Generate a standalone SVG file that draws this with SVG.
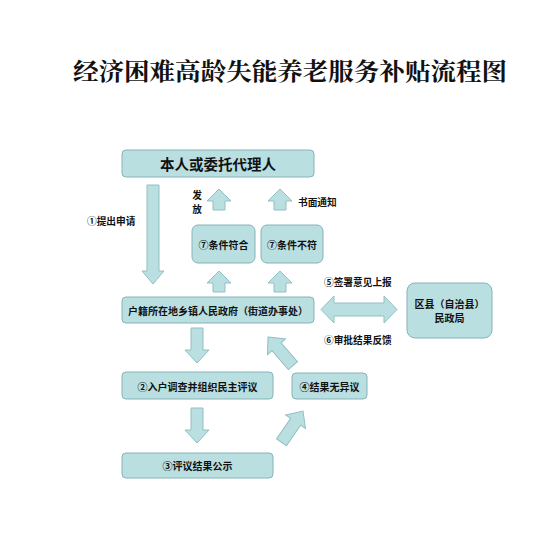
<svg xmlns="http://www.w3.org/2000/svg" width="542" height="534" viewBox="0 0 542 534">
<style>
.box{fill:#B9DFE1;stroke:#86B3B8;stroke-width:1}
.arr{fill:#B9DFE1;stroke:#93BFC4;stroke-width:1}
text{font-family:"Noto Sans CJK SC","Liberation Sans",sans-serif;font-weight:bold;fill:#111}
.t{font-size:10px;text-anchor:middle;dominant-baseline:central}
.lbl{font-size:9.7px;dominant-baseline:central}
.title{font-family:"Noto Serif CJK SC","Noto Sans CJK SC",serif;font-size:24px;font-weight:bold}
</style>
<defs>
<path id="upA" d="M0,0 L12,12 L6,12 L6,21 L-6,21 L-6,12 L-12,12 Z"/>
<path id="diagA" d="M0,0 L12,13 L6,13 L6,38 L-6,38 L-6,13 L-12,13 Z"/>
<path id="downA" d="M0,0 L6,0 L6,22 L12,22 L0,35 L-12,22 L-6,22 L-6,0 Z"/>
</defs>
<rect width="542" height="534" fill="#fff"/>
<text class="title" x="73" y="80" textLength="434" lengthAdjust="spacingAndGlyphs">经济困难高龄失能养老服务补贴流程图</text>

<g id="connectors">
<path class="arr" d="M147,185 L159,185 L159,271 L164,271 L153,284 L142,271 L147,271 Z"/>
<use href="#upA" class="arr" x="219" y="189"/>
<use href="#upA" class="arr" x="280" y="189"/>
<use href="#upA" class="arr" x="219" y="271"/>
<use href="#upA" class="arr" x="280" y="271"/>
<path class="arr" d="M321,309.5 L334,296 L334,303 L384,303 L384,296 L397,309.5 L384,323 L384,316 L334,316 L334,323 Z"/>
<use href="#downA" class="arr" transform="translate(197,328)"/>
<use href="#downA" class="arr" transform="translate(197,408)"/>
<use href="#diagA" class="arr" transform="translate(268,337) rotate(-41)"/>
<use href="#diagA" class="arr" transform="translate(303,411) rotate(34.5)"/>
</g>

<g id="lbl-apply"><text class="lbl" x="87" y="221">①提出申请</text></g>
<g id="lbl-issue"><text class="lbl" x="197" y="195" text-anchor="middle">发</text><text class="lbl" x="197" y="209" text-anchor="middle">放</text></g>
<g id="lbl-notify"><text class="lbl" x="298" y="202">书面通知</text></g>
<g id="lbl-report"><text class="lbl" x="324" y="282">⑤签署意见上报</text></g>
<g id="lbl-feedback"><text class="lbl" x="324" y="340">⑥审批结果反馈</text></g>

<g id="applicant"><rect class="box" x="122" y="150" width="192" height="27" rx="4"/><text class="t" x="218" y="163.5" style="font-size:14.5px">本人或委托代理人</text></g>
<g id="qualified"><rect class="box" x="192" y="225" width="63" height="38" rx="6"/><text class="t" x="223.5" y="244">⑦条件符合</text></g>
<g id="unqualified"><rect class="box" x="261" y="225" width="62" height="38" rx="6"/><text class="t" x="292" y="244">⑦条件不符</text></g>
<g id="township"><rect class="box" x="122" y="297" width="192" height="26" rx="4"/><text class="t" x="218" y="310">户籍所在地乡镇人民政府（街道办事处）</text></g>
<g id="civil-affairs"><rect class="box" x="407" y="283" width="85" height="55" rx="8"/><text class="t" x="449.5" y="303">区县（自治县）</text><text class="t" x="449.5" y="317">民政局</text></g>
<g id="survey"><rect class="box" x="122" y="372" width="151" height="27" rx="4"/><text class="t" x="197.5" y="386">②入户调查并组织民主评议</text></g>
<g id="no-objection"><rect class="box" x="292" y="373" width="75" height="26" rx="4"/><text class="t" x="329.5" y="386">④结果无异议</text></g>
<g id="publicity"><rect class="box" x="122" y="453" width="151" height="25" rx="4"/><text class="t" x="197.5" y="465.5">③评议结果公示</text></g>
</svg>
